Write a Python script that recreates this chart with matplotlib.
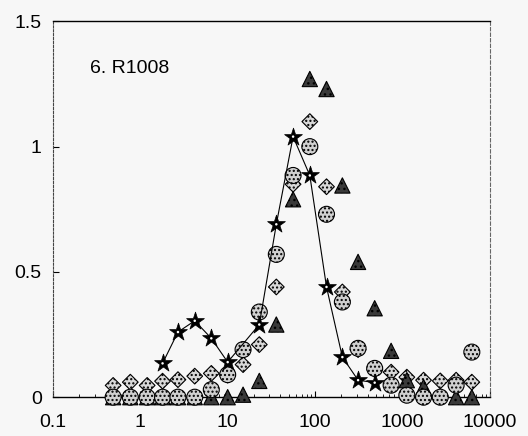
import numpy as np
import matplotlib
matplotlib.use("Agg")
import matplotlib.pyplot as plt
from matplotlib.ticker import FixedLocator, FixedFormatter, LogLocator, NullFormatter

# Particle size classes (log-spaced sieve sizes)
sizes = [0.49, 0.77, 1.2, 1.8, 2.7, 4.2, 6.5, 10, 15, 23, 36, 56, 87,
         135, 205, 310, 480, 740, 1120, 1740, 2700, 4100, 6200]

# Series values per size class (nan = no measurement)
nan = np.nan
circle_vals = [0.0, 0.0, 0.0, 0.0, 0.0, 0.0, 0.03, 0.09, 0.19, 0.34, 0.57,
               0.885, 1.0, 0.73, 0.38, 0.195, 0.115, 0.048, 0.008, 0.0, 0.0,
               0.048, 0.18]
diamond_vals = [0.047, 0.06, 0.047, 0.064, 0.07, 0.084, 0.095, 0.088, 0.13,
                0.21, 0.44, 0.85, 1.1, 0.84, 0.42, 0.19, 0.11, 0.1, 0.08,
                0.068, 0.065, 0.068, 0.06]
triangle_vals = [0.0, 0.0, 0.0, 0.0, 0.0, 0.0, 0.0, 0.0, 0.01, 0.065, 0.29,
                 0.79, 1.27, 1.23, 0.845, 0.54, 0.355, 0.185, 0.068, 0.04,
                 nan, 0.0, 0.0]
star_sizes = [1.8, 2.7, 4.2, 6.5, 10, 23, 36, 56, 87, 135, 205, 310, 480]
star_vals = [0.135, 0.26, 0.305, 0.235, 0.14, 0.29, 0.69, 1.04, 0.885,
             0.44, 0.16, 0.068, 0.058]

panel_label = "6. R1008"
x_ticks = [0.1, 1, 10, 100, 1000, 10000]
x_ticklabels = ["0.1", "1", "10", "100", "1000", "10000"]
y_ticks = [0, 0.5, 1, 1.5]
y_ticklabels = ["0", "0.5", "1", "1.5"]

plt.rcParams['font.family'] = ['Liberation Sans', 'DejaVu Sans']
bg = '#f7f7f7'

fig = plt.figure(figsize=(5.28, 4.36), dpi=100, facecolor=bg)
ax = fig.add_axes([0.100, 0.089, 0.828, 0.862], facecolor=bg)

ax.scatter(sizes, diamond_vals, marker='D', s=8.0**2, facecolor='#d8d8d8',
           edgecolor='black', linewidths=0.8, hatch='....', zorder=3,
           clip_on=False)
with plt.rc_context({'hatch.color': 'white'}):
    ax.scatter(sizes, triangle_vals, marker='^', s=11.0**2,
               facecolor='#3a3a3a', edgecolor='black', linewidths=0.8,
               hatch='...', zorder=4, clip_on=False)
ax.scatter(sizes, circle_vals, marker='o', s=11.5**2, facecolor='#d0d0d0',
           edgecolor='black', linewidths=0.8, hatch='....', zorder=5,
           clip_on=False)
ax.plot(star_sizes, star_vals, color='black', lw=0.8, zorder=6)
ax.scatter(star_sizes, star_vals, marker='*', s=13.5**2, facecolor='black',
           edgecolor='black', linewidths=0.5, zorder=7, clip_on=False)
ax.scatter(star_sizes, star_vals, marker='o', s=1.8**2, facecolor='white',
           edgecolor='none', zorder=8, clip_on=False)

ax.set_xscale('log')
ax.set_xlim(0.1, 10000)
ax.set_ylim(0, 1.5)

ax.xaxis.set_major_locator(FixedLocator(x_ticks))
ax.xaxis.set_major_formatter(FixedFormatter(x_ticklabels))
ax.xaxis.set_minor_locator(LogLocator(base=10, subs=np.arange(2, 10)))
ax.xaxis.set_minor_formatter(NullFormatter())
ax.yaxis.set_major_locator(FixedLocator(y_ticks))
ax.yaxis.set_major_formatter(FixedFormatter(y_ticklabels))

ax.tick_params(axis='x', which='major', direction='in', length=4, width=0.8,
               labelsize=14, pad=12, top=False)
ax.tick_params(axis='x', which='minor', direction='in', length=2.5, width=0.6,
               top=False)
ax.tick_params(axis='y', which='major', direction='in', length=4, width=0.8,
               labelsize=14, pad=8, right=False)

for side in ['top', 'bottom']:
    ax.spines[side].set_linewidth(1.0)
    ax.spines[side].set_color('black')
ax.spines['left'].set_linestyle((0, (2, 1.5)))
ax.spines['left'].set_color('#444444')
ax.spines['left'].set_linewidth(0.8)
ax.spines['right'].set_linestyle((0, (3, 2)))
ax.spines['right'].set_color('#666666')
ax.spines['right'].set_linewidth(0.8)

ax.text(0.085, 0.875, panel_label, transform=ax.transAxes, fontsize=14,
        ha='left', va='center')

fig.savefig('out.png', dpi=100, facecolor=bg)
